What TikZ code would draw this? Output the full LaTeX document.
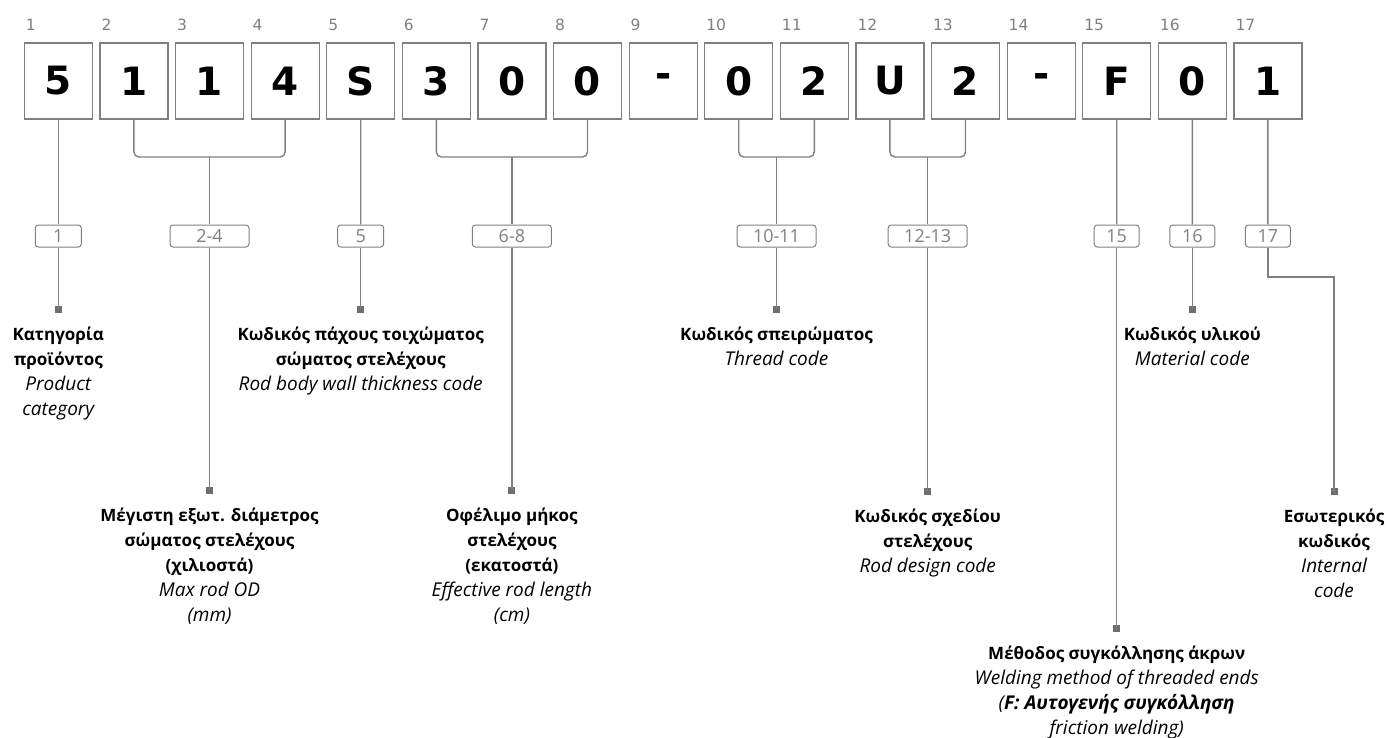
\documentclass[tikz,border=0pt]{standalone}
\usepackage{fontspec}
\setmainfont{Open Sans}
\newfontfamily\charfont{DejaVu Sans}
\usetikzlibrary{positioning}
\definecolor{linegray}{RGB}{128,128,128}
\definecolor{markgray}{RGB}{110,110,110}
\newcommand{\grk}[1]{\textbf{#1}}
\newcommand{\eng}[1]{{\fontsize{19}{25}\selectfont\itshape #1}}

\begin{document}
\begin{tikzpicture}[x=1pt,y=-1pt,
    charbox/.style={draw=linegray,line width=1.2pt,minimum width=68pt,minimum height=76pt,inner sep=0pt,
      font=\charfont\bfseries\fontsize{39}{39}\selectfont},
    posnum/.style={anchor=base west,inner sep=0pt,text=linegray,font=\charfont\fontsize{15.5}{15.5}\selectfont},
    rangebox/.style={draw=linegray,line width=1pt,rounded corners=3pt,minimum height=22pt,inner sep=0pt,
      text=linegray,font=\fontsize{18}{18}\selectfont},
    link/.style={draw=linegray,line width=1.4pt},
    endmark/.style={fill=markgray,minimum size=7pt,inner sep=0pt},
    desc/.style={anchor=north,align=center,inner sep=0pt,font=\fontsize{17}{25}\selectfont}
  ]
  \useasboundingbox (0,0) rectangle (1389,738);

  % code characters and their positions
  \foreach \ch [count=\i] in {5,1,1,4,S,3,0,0,-,0,2,U,2,-,F,0,1} {
    \node[charbox] (c\i) at ({58.3+(\i-1)*75.6},81) {\ch};
    \node[posnum] (n\i) at ([xshift=2pt,yshift=12pt]c\i.north west) {\i};
  }

  % range labels
  \node[rangebox,minimum width=46pt] (r1) at (58.3,236) {1};
  \node[rangebox,minimum width=79pt] (r24) at (209.5,236) {2-4};
  \node[rangebox,minimum width=46pt] (r5) at (360.7,236) {5};
  \node[rangebox,minimum width=79pt] (r68) at (511.9,236) {6-8};
  \node[rangebox,minimum width=79pt] (r1011) at (776.5,236) {10-11};
  \node[rangebox,minimum width=79pt] (r1213) at (927.7,236) {12-13};
  \node[rangebox,minimum width=45pt] (r15) at (1116.7,236) {15};
  \node[rangebox,minimum width=45pt] (r16) at (1192.3,236) {16};
  \node[rangebox,minimum width=45pt] (r17) at (1267.9,236) {17};

  % brackets
  \coordinate (b24) at (209.5,157);
  \coordinate (b68) at (511.9,157);
  \coordinate (b1011) at (776.5,157);
  \coordinate (b1213) at (927.7,157);
  \draw[link,rounded corners=5pt] (c2.south) |- (b24) -| (c4.south);
  \draw[link,rounded corners=5pt] (c6.south) |- (b68) -| (c8.south);
  \draw[link,rounded corners=5pt] (c10.south) |- (b1011) -| (c11.south);
  \draw[link,rounded corners=5pt] (c12.south) |- (b1213) -| (c13.south);
  \draw[link] (b24) -- (r24.north);
  \draw[link] (b68) -- (r68.north);
  \draw[link] (b1011) -- (r1011.north);
  \draw[link] (b1213) -- (r1213.north);
  \draw[link] (c1.south) -- (r1.north);
  \draw[link] (c5.south) -- (r5.north);
  \draw[link] (c15.south) -- (r15.north);
  \draw[link] (c16.south) -- (r16.north);
  \draw[link] (c17.south) -- (r17.north);

  % end marks
  \node[endmark] (e1) at (58.3,309) {};
  \node[endmark] (e24) at (209.5,490) {};
  \node[endmark] (e5) at (360.7,309) {};
  \node[endmark] (e68) at (511.9,490) {};
  \node[endmark] (e1011) at (776.5,309) {};
  \node[endmark] (e1213) at (927.7,491) {};
  \node[endmark] (e15) at (1116.7,628) {};
  \node[endmark] (e16) at (1192.3,309) {};
  \node[endmark] (e17) at (1334,491) {};
  \coordinate (k17) at (1267.9,277);

  \draw[link] (r1.south) -- (e1.center);
  \draw[link] (r24.south) -- (e24.center);
  \draw[link] (r5.south) -- (e5.center);
  \draw[link] (r68.south) -- (e68.center);
  \draw[link] (r1011.south) -- (e1011.center);
  \draw[link] (r1213.south) -- (e1213.center);
  \draw[link] (r15.south) -- (e15.center);
  \draw[link] (r16.south) -- (e16.center);
  \draw[link] (r17.south) -- (k17) -| (e17.center);

  % descriptions
  \node[desc,below=14pt of e1] (t1) {\grk{Κατηγορία}\\\grk{προϊόντος}\\\eng{Product}\\\eng{category}};
  \node[desc,below=14pt of e24] (t24) {\grk{Μέγιστη εξωτ. διάμετρος}\\\grk{σώματος στελέχους}\\\grk{(χιλιοστά)}\\\eng{Max rod OD}\\\eng{(mm)}};
  \node[desc,below=14pt of e5] (t5) {\grk{Κωδικός πάχους τοιχώματος}\\\grk{σώματος στελέχους}\\\eng{Rod body wall thickness code}};
  \node[desc,below=14pt of e68] (t68) {\grk{Οφέλιμο μήκος}\\\grk{στελέχους}\\\grk{(εκατοστά)}\\\eng{Effective rod length}\\\eng{(cm)}};
  \node[desc,below=14pt of e1011] (t1011) {\grk{Κωδικός σπειρώματος}\\\eng{Thread code}};
  \node[desc,below=14pt of e1213] (t1213) {\grk{Κωδικός σχεδίου}\\\grk{στελέχους}\\\eng{Rod design code}};
  \node[desc,below=14pt of e15] (t15) {\grk{Μέθοδος συγκόλλησης άκρων}\\\eng{Welding method of threaded ends}\\\eng{(\textbf{F: Αυτογενής συγκόλληση}}\\\eng{friction welding)}};
  \node[desc,below=14pt of e16] (t16) {\grk{Κωδικός υλικού}\\\eng{Material code}};
  \node[desc,below=14pt of e17] (t17) {\grk{Εσωτερικός}\\\grk{κωδικός}\\\eng{Internal}\\\eng{code}};
\end{tikzpicture}
\end{document}
